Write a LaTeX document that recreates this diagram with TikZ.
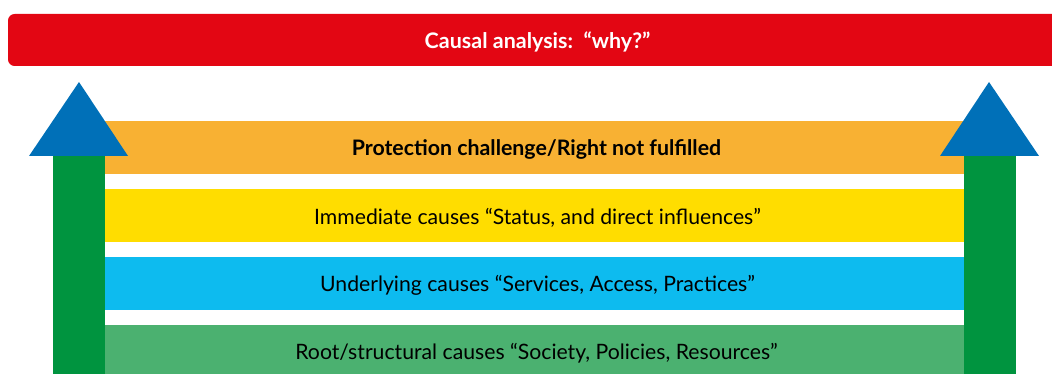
\documentclass[tikz,border=0pt]{standalone}
\usepackage{fontspec}
\setmainfont{Lato}
\definecolor{redbar}{HTML}{E30613}
\definecolor{orangeband}{HTML}{F8B133}
\definecolor{yellowband}{HTML}{FFDD00}
\definecolor{blueband}{HTML}{0DBBEF}
\definecolor{greenband}{HTML}{4BB170}
\definecolor{shaftgreen}{HTML}{00943F}
\definecolor{headblue}{HTML}{0070B8}
\tikzset{
  band/.style={rectangle, inner sep=0pt, minimum width=859*0.75pt, minimum height=53*0.75pt, text=black, font=\fontsize{15.9pt}{18pt}\selectfont},
  bandtext/.style={inner sep=0pt, text=black, font=\fontsize{15.9pt}{18pt}\selectfont},
  shaft/.style={fill=shaftgreen, draw=none},
  head/.style={fill=headblue, draw=none},
}
\begin{document}
\begin{tikzpicture}[x=0.75pt,y=-0.75pt]
\useasboundingbox (0,0) rectangle (1052,374);
\clip (0,0) rectangle (1052,374);
% top bar
\fill[redbar, rounded corners=5pt] (8,14) rectangle (1070,66);
\node[text=white, font=\bfseries\fontsize{16.1pt}{18pt}\selectfont] (title) at (537.5,42) {Causal analysis:~~“why?”};
% bands
\node[band, fill=orangeband] (b1) at (534.5,147.5) {};
\node[band, fill=yellowband] (b2) at (534.5,215.5) {};
\node[band, fill=blueband] (b3) at (534.5,283.5) {};
\node[band, fill=greenband] (b4) at (534.5,351.5) {};
\node[bandtext, font=\bfseries\fontsize{16pt}{18pt}\selectfont] (t1) at ([shift={(2,2)}]b1.center) {Protection challenge/Right not fulfilled};
\node[bandtext] (t2) at ([shift={(3,2)}]b2.center) {Immediate causes “Status, and direct influences”};
\node[bandtext] (t3) at ([shift={(3,2)}]b3.center) {Underlying causes “Services, Access, Practices”};
\node[bandtext] (t4) at ([shift={(2,2)}]b4.center) {Root/structural causes “Society, Policies, Resources”};
% left arrow
\fill[shaft] (53,156) rectangle (105,380);
\fill[head] (29,156) -- (79,82) -- (128,156) -- cycle;
% right arrow
\fill[shaft] (964,156) rectangle (1016,380);
\fill[head] (940,156) -- (989,82) -- (1039,156) -- cycle;
\end{tikzpicture}
\end{document}
